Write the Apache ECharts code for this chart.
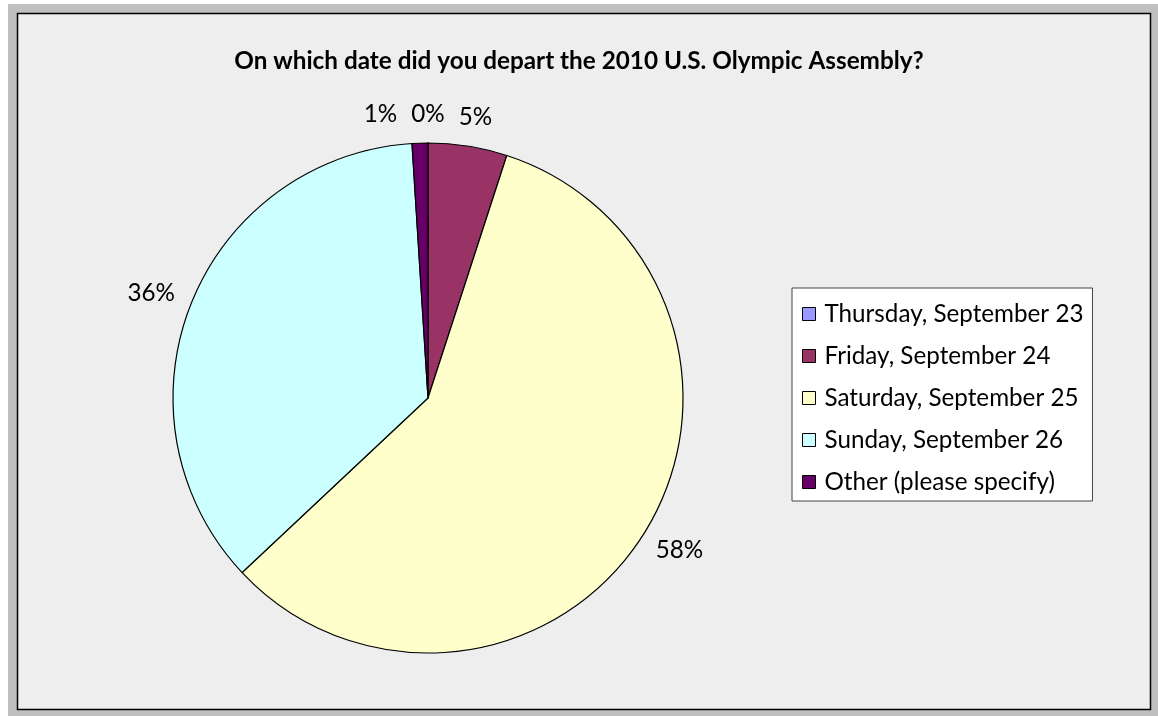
<!DOCTYPE html>
<html>
<head>
<meta charset="utf-8">
<script src="https://cdn.jsdelivr.net/npm/echarts@6/dist/echarts.min.js"></script>
<style>
html,body{margin:0;padding:0;background:#ffffff;}
#chart{width:1158px;height:716px;}
</style>
</head>
<body>
<div id="chart"></div>
<script>
const titleText = 'On which date did you depart the 2010 U.S. Olympic Assembly?';
const categories = ['Thursday, September 23','Friday, September 24','Saturday, September 25','Sunday, September 26','Other (please specify)'];
const percents = [0, 5, 58, 36, 1];
const colors = ['#9999ff','#993366','#ffffcc','#ccffff','#660066'];

const FONT = 'Lato';
const measureCtx = document.createElement('canvas').getContext('2d');
function textWidth(text, size, weight){
  measureCtx.font = weight + ' ' + size + 'px ' + FONT;
  return measureCtx.measureText(text).width;
}
function fitSize(text, target, weight){
  return 100 * target / textWidth(text, 100, weight);
}
const titleSize = fitSize(titleText, 690, 'bold');
const textSize = fitSize('Thursday, September 23', 259, 'normal');

const PIE_CX = 428, PIE_CY = 398, PIE_R = 255;
const LABEL_GAP = 19;
const LABEL_SEP = 14;

function fmt(v){ return v + '%'; }

// Excel-like outside label placement: box pushed out along the slice's mid angle,
// then nudged sideways to clear earlier labels.
const labelPos = (function(){
  const total = percents.reduce((a,b)=>a+b,0);
  const h = textSize * 0.85;
  let cum = 0;
  const boxes = [];
  percents.forEach((v,i)=>{
    const f = (cum + v/2) / total;
    cum += v;
    const ux = Math.sin(2*Math.PI*f), uy = -Math.cos(2*Math.PI*f);
    const w = textWidth(fmt(v), textSize, 'normal');
    const R = PIE_R + LABEL_GAP;
    let x = PIE_CX + R*ux + w/2*ux;
    const y = PIE_CY + R*uy + h/2*uy;
    const dir = ux < -1e-9 ? -1 : 1;
    let moved = true, guard = 0;
    while (moved && guard++ < 50){
      moved = false;
      for (const b of boxes){
        const yOver = Math.abs(y - b.y) < (h + b.h)/2;
        const xOver = Math.abs(x - b.x) < (w + b.w)/2 + LABEL_SEP;
        if (yOver && xOver){
          x = dir > 0 ? b.x + (b.w + w)/2 + LABEL_SEP : b.x - (b.w + w)/2 - LABEL_SEP;
          moved = true;
        }
      }
    }
    boxes.push({x, y, w, h});
  });
  return boxes;
})();

const chart = echarts.init(document.getElementById('chart'));
chart.setOption({
  animation: false,
  color: colors,
  graphic: [
    {type:'rect', shape:{x:8,y:4,width:1150,height:712}, style:{fill:'#c0c0c0'}, z:-10},
    {type:'rect', shape:{x:17.5,y:13.5,width:1133,height:696}, style:{fill:'#eeeeee', stroke:'#000', lineWidth:1.5}, z:-9}
  ],
  title: {
    text: titleText,
    left: 'center',
    top: 44,
    textStyle: {fontFamily: FONT, fontWeight: 'bold', fontSize: titleSize, color: '#000'}
  },
  legend: {
    orient: 'vertical',
    left: 792,
    top: 288,
    backgroundColor: '#ffffff',
    borderColor: '#444',
    borderWidth: 1,
    borderRadius: 0,
    padding: [14, 9, 7, 10],
    itemWidth: 13,
    itemHeight: 13,
    itemGap: 18,
    icon: 'rect',
    itemStyle: {borderColor: '#000', borderWidth: 1},
    textStyle: {fontFamily: FONT, fontSize: textSize, color: '#000', lineHeight: 20, padding: [0, 0, 0, 4]},
    data: categories
  },
  series: [{
    type: 'pie',
    center: [PIE_CX, PIE_CY],
    radius: PIE_R,
    startAngle: 90,
    clockwise: true,
    minAngle: 0.001,
    avoidLabelOverlap: false,
    itemStyle: {borderColor: '#000', borderWidth: 1.2},
    label: {
      show: true,
      position: 'outside',
      formatter: function(p){ return fmt(p.value); },
      fontFamily: FONT, fontSize: textSize, color: '#000'
    },
    labelLine: {show: false, length: 20, length2: 0},
    labelLayout: function(p){
      const b = labelPos[p.dataIndex];
      return {x: b.x, y: b.y, align: 'center', verticalAlign: 'middle'};
    },
    emphasis: {disabled: true},
    data: categories.map((c,i)=>({name:c, value:percents[i]}))
  }]
});
</script>
</body>
</html>
